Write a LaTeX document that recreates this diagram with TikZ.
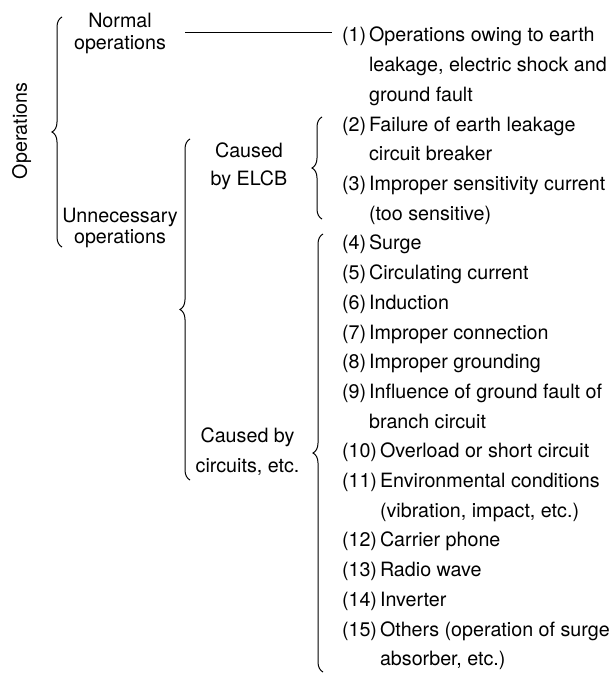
\documentclass[tikz,border=0pt]{standalone}
\usepackage{fontspec}
\setmainfont{TeX Gyre Heros}
\usetikzlibrary{decorations.pathreplacing}
\newcommand\itlbl[1]{(#1)\hspace{3pt}}
\newcommand\itind[1]{\hphantom{(#1)}\hspace{3pt}}
\begin{document}
\begin{tikzpicture}[x=1pt,y=-1pt,
  every node/.style={inner sep=0pt, outer sep=0pt, font=\fontsize{19.7}{22}\selectfont},
  item/.style={anchor=base west},
  grp/.style={align=center, anchor=base},
  bracepath/.style={decorate, decoration={brace, amplitude=10pt}, line width=1pt},
  link/.style={line width=1pt}]
\useasboundingbox (0,0) rectangle (615,677);

% root label
\node[rotate=90, anchor=base] (ops) at (27,131) {Operations};

% group labels (anchor at baseline of last line)
\node[grp] (normal) at (120,50) {Normal\\operations};
\node[grp, font=\fontsize{19.7}{21}\selectfont] (unnec) at (120,243) {Unnecessary\\operations};
\node[grp, font=\fontsize{19.7}{28}\selectfont] (elcb) at (249,185) {Caused\\by ELCB};
\node[grp, font=\fontsize{19.7}{30}\selectfont] (circ) at (247.5,472) {Caused by\\circuits, etc.};

% items
\node[item] (i1)  at (342,42.0)  {\itlbl{1}Operations owing to earth};
\node[item] (i1b) at (342,71.7)  {\itind{1}leakage, electric shock and};
\node[item] (i1c) at (342,101.4) {\itind{1}ground fault};
\node[item] (i2)  at (342,131.1) {\itlbl{2}Failure of earth leakage};
\node[item] (i2b) at (342,160.8) {\itind{2}circuit breaker};
\node[item] (i3)  at (342,190.5) {\itlbl{3}Improper sensitivity current};
\node[item] (i3b) at (342,220.2) {\itind{3}(too sensitive)};
\node[item] (i4)  at (342,249.9) {\itlbl{4}Surge};
\node[item] (i5)  at (342,279.6) {\itlbl{5}Circulating current};
\node[item] (i6)  at (342,309.3) {\itlbl{6}Induction};
\node[item] (i7)  at (342,339.0) {\itlbl{7}Improper connection};
\node[item] (i8)  at (342,368.7) {\itlbl{8}Improper grounding};
\node[item] (i9)  at (342,398.4) {\itlbl{9}Influence of ground fault of};
\node[item] (i9b) at (342,428.1) {\itind{9}branch circuit};
\node[item] (i10) at (342,457.8) {\itlbl{10}Overload or short circuit};
\node[item] (i11) at (342,487.5) {\itlbl{11}Environmental conditions};
\node[item] (i11b) at (342,517.2) {\itind{11}(vibration, impact, etc.)};
\node[item] (i12) at (342,546.9) {\itlbl{12}Carrier phone};
\node[item] (i13) at (342,576.6) {\itlbl{13}Radio wave};
\node[item] (i14) at (342,606.3) {\itlbl{14}Inverter};
\node[item] (i15) at (342,636.0) {\itlbl{15}Others (operation of surge};
\node[item] (i15b) at (342,665.7) {\itind{15}absorber, etc.)};

% connector from Normal operations to item (1)
\coordinate (nlA) at (185,33);
\coordinate (nlB) at (332,33);
\draw[link] (nlA) -- (nlB);

% braces
\coordinate (b1a) at (62,247);  \coordinate (b1b) at (62,17);
\coordinate (b2a) at (190,480); \coordinate (b2b) at (190,139);
\coordinate (b3a) at (322,219); \coordinate (b3b) at (322,117);
\coordinate (b4a) at (323,672); \coordinate (b4b) at (323,234);
\draw[bracepath] (b1a) -- (b1b);
\draw[bracepath] (b2a) -- (b2b);
\draw[bracepath] (b3a) -- (b3b);
\draw[bracepath] (b4a) -- (b4b);
\end{tikzpicture}
\end{document}
